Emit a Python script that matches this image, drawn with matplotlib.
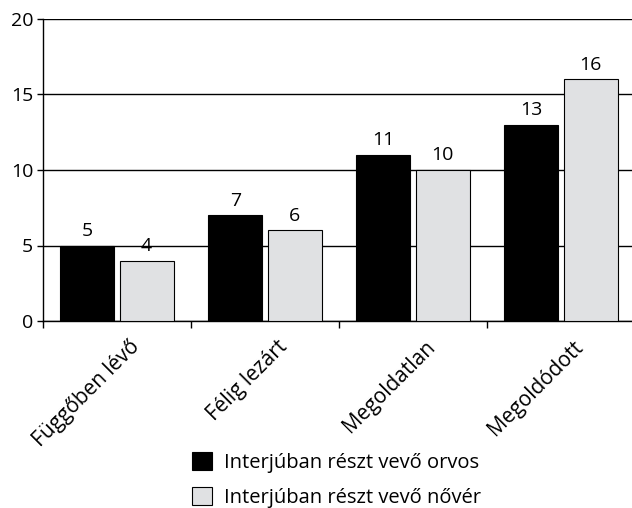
import matplotlib.pyplot as plt
import matplotlib.transforms as mtransforms
import numpy as np

plt.rcParams['font.family'] = ['Open Sans', 'DejaVu Sans']

categories = ["Függőben lévő", "Félig lezárt", "Megoldatlan", "Megoldódott"]
orvos = [5, 7, 11, 13]
nover = [4, 6, 10, 16]
series_names = ["Interjúban részt vevő orvos", "Interjúban részt vevő nővér"]

fig = plt.figure(figsize=(6.32, 5.08), dpi=100)
ax = fig.add_axes([43 / 632, 1 - 321 / 508, 592 / 632, 302 / 508])

x = np.arange(len(categories))
w = 0.365
gap = 0.017
b1 = ax.bar(x - w / 2 - gap, orvos, w, color="black", edgecolor="black",
            linewidth=0.8, zorder=3, label=series_names[0])
b2 = ax.bar(x + w / 2 + gap, nover, w, color="#e0e1e3", edgecolor="black",
            linewidth=0.8, zorder=3, label=series_names[1])

for bars in (b1, b2):
    for rect in bars:
        h = rect.get_height()
        ax.annotate(f"{h:g}", (rect.get_x() + rect.get_width() / 2, h),
                    xytext=(0, 4), textcoords="offset points",
                    ha="center", va="bottom", fontsize=14)

ax.set_xlim(-0.5, len(categories) - 0.5)
ax.set_ylim(0, 20)
ax.set_yticks([0, 5, 10, 15, 20])
ax.yaxis.grid(True, color="black", linewidth=1, zorder=0)
ax.set_axisbelow(True)
ax.tick_params(axis="y", length=4, width=1, labelsize=14, pad=3)

# category ticks sit between groups, labels at group centres
ax.set_xticks(np.arange(len(categories) + 1) - 0.5)
ax.set_xticklabels([])
ax.set_xticks(x, minor=True)
ax.set_xticklabels(categories, minor=True, rotation=45, ha="right",
                   rotation_mode="anchor", fontsize=15)
ax.tick_params(axis="x", which="major", length=5, width=1)
ax.tick_params(axis="x", which="minor", length=0, pad=11)
shift = mtransforms.ScaledTranslation(0.12, 0, fig.dpi_scale_trans)
for lab in ax.get_xticklabels(minor=True):
    lab.set_transform(lab.get_transform() + shift)

for s in ("top", "right"):
    ax.spines[s].set_visible(False)
for s in ("left", "bottom"):
    ax.spines[s].set_linewidth(1)

fig.legend(handles=[b1, b2], loc="upper left",
           bbox_to_anchor=(174 / 632, 1 - 434 / 508), frameon=False,
           fontsize=14.5, handlelength=1.0, handleheight=1.0,
           handletextpad=0.6, labelspacing=0.7)

fig.savefig("out.png", dpi=100)
